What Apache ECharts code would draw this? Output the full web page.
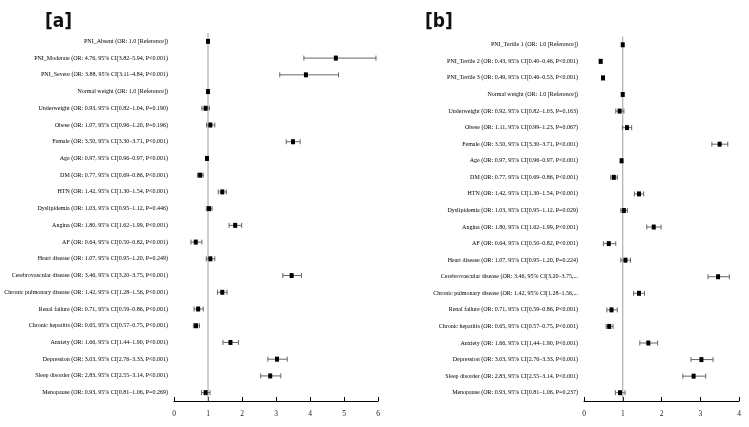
<!DOCTYPE html>
<html>
<head>
<meta charset="utf-8">
<script src="https://cdn.jsdelivr.net/npm/echarts@6/dist/echarts.min.js"></script>
<style>
  html, body { margin: 0; padding: 0; background: #fff; }
  #chart { width: 749px; height: 427px; }
</style>
</head>
<body>
<div id="chart"></div>
<script>
// panel [a]: PNI absent / moderate / severe
const namesA = ['PNI_Absent', 'PNI_Moderate', 'PNI_Severe', 'Normal weight', 'Underweight', 'Obese', 'Female', 'Age', 'DM', 'HTN',
  'Dyslipidemia', 'Angina', 'AF', 'Heart disease', 'Cerebrovascular disease', 'Chronic pulmonary disease', 'Renal failure',
  'Chronic hepatitis', 'Anxiety', 'Depression', 'Sleep disorder', 'Menopause'];
const orA = [1.0, 4.76, 3.88, 1.0, 0.93, 1.07, 3.50, 0.97, 0.77, 1.42, 1.03, 1.80, 0.64, 1.07, 3.46, 1.42, 0.71, 0.65, 1.66, 3.03, 2.83, 0.93];
const loA = [null, 3.82, 3.11, null, 0.82, 0.96, 3.30, 0.96, 0.69, 1.30, 0.95, 1.62, 0.50, 0.95, 3.20, 1.28, 0.59, 0.57, 1.44, 2.76, 2.55, 0.81];
const hiA = [null, 5.94, 4.84, null, 1.04, 1.20, 3.71, 0.97, 0.86, 1.54, 1.12, 1.99, 0.82, 1.20, 3.75, 1.56, 0.86, 0.75, 1.90, 3.33, 3.14, 1.06];
const pA = [null, 'P<0.001', 'P<0.001', null, 'P=0.190', 'P=0.196', 'P<0.001', 'P<0.001', 'P<0.001', 'P<0.001', 'P=0.446',
  'P<0.001', 'P<0.001', 'P=0.249', 'P<0.001', 'P<0.001', 'P<0.001', 'P<0.001', 'P<0.001', 'P<0.001', 'P<0.001', 'P=0.269'];

// panel [b]: PNI tertiles
const namesB = ['PNI_Tertile 1', 'PNI_Tertile 2', 'PNI_Tertile 3', 'Normal weight', 'Underweight', 'Obese', 'Female', 'Age', 'DM', 'HTN',
  'Dyslipidemia', 'Angina', 'AF', 'Heart disease', 'Cerebrovascular disease', 'Chronic pulmonary disease', 'Renal failure',
  'Chronic hepatitis', 'Anxiety', 'Depression', 'Sleep disorder', 'Menopause'];
const orB = [1.0, 0.43, 0.49, 1.0, 0.92, 1.11, 3.50, 0.97, 0.77, 1.42, 1.03, 1.80, 0.64, 1.07, 3.46, 1.42, 0.71, 0.65, 1.66, 3.03, 2.83, 0.93];
const loB = [null, 0.40, 0.46, null, 0.82, 0.99, 3.30, 0.96, 0.69, 1.30, 0.95, 1.62, 0.50, 0.95, 3.20, 1.28, 0.59, 0.57, 1.44, 2.76, 2.55, 0.81];
const hiB = [null, 0.46, 0.53, null, 1.03, 1.23, 3.71, 0.97, 0.86, 1.54, 1.12, 1.99, 0.82, 1.20, 3.75, 1.56, 0.86, 0.75, 1.90, 3.33, 3.14, 1.06];
const pB = [null, 'P<0.001', 'P<0.001', null, 'P=0.163', 'P=0.067', 'P<0.001', 'P<0.001', 'P<0.001', 'P<0.001', 'P=0.029',
  'P<0.001', 'P<0.001', 'P=0.224', 'P<0.001', 'P<0.001', 'P<0.001', 'P<0.001', 'P<0.001', 'P<0.001', 'P<0.001', 'P=0.237'];
// these two labels got cut off in panel b
const cutB = ['Cerebrovascular disease', 'Chronic pulmonary disease'];

const ticksA = [0, 1, 2, 3, 4, 5, 6];
const ticksB = [0, 1, 2, 3, 4];

function fmt(v) {
  return v.toFixed(2);
}

function makeLabels(names, or, lo, hi, p, cut) {
  return names.map(function (n, i) {
    if (lo[i] == null) return n + ' (OR: 1.0 [Reference])';
    const head = n + ' (OR: ' + fmt(or[i]) + ', 95% CI[' + fmt(lo[i]) + '\u2013' + fmt(hi[i]) + ',';
    if (cut && cut.indexOf(n) >= 0) return head + '...';
    return head + ' ' + p[i] + ')';
  });
}

const labelsA = makeLabels(namesA, orA, loA, hiA, pA);
const labelsB = makeLabels(namesB, orB, loB, hiB, pB, cutB);

const serif = "'Liberation Serif', 'DejaVu Serif', serif";

// [or, lo, hi, row]; reference rows get -1 for lo/hi so no bar is drawn
function rows(or, lo, hi) {
  return or.map(function (v, i) {
    return [v, lo[i] == null ? -1 : lo[i], hi[i] == null ? -1 : hi[i], i];
  });
}

function renderForest(params, api) {
  const or = api.value(0);
  const lo = api.value(1);
  const hi = api.value(2);
  const cat = api.value(3);
  const c = api.coord([or, cat]);
  const kids = [];
  // vertical reference line at OR = 1, drawn once per panel
  if (params.dataIndex === 0) {
    const cs = params.coordSys;
    const x1 = api.coord([1, cat])[0];
    kids.push({ type: 'line', shape: { x1: x1, y1: cs.y, x2: x1, y2: cs.y + cs.height }, style: { stroke: '#a0a0a0', lineWidth: 1 } });
  }
  if (lo >= 0) {
    const a = api.coord([lo, cat]);
    const b = api.coord([hi, cat]);
    const st = { stroke: '#666', lineWidth: 1 };
    kids.push({ type: 'line', shape: { x1: a[0], y1: a[1], x2: b[0], y2: b[1] }, style: st });
    kids.push({ type: 'line', shape: { x1: a[0], y1: a[1] - 2.5, x2: a[0], y2: a[1] + 2.5 }, style: st });
    kids.push({ type: 'line', shape: { x1: b[0], y1: b[1] - 2.5, x2: b[0], y2: b[1] + 2.5 }, style: st });
  }
  kids.push({ type: 'rect', shape: { x: c[0] - 2, y: c[1] - 2.5, width: 4, height: 5 }, style: { fill: '#000' } });
  return { type: 'group', children: kids };
}

function xAxisCfg(idx, max) {
  return {
    type: 'value', gridIndex: idx, min: 0, max: max, interval: 1,
    splitLine: { show: false },
    axisLine: { show: true, lineStyle: { color: '#000', width: 1 } },
    axisTick: { show: true, inside: true, length: 4, lineStyle: { color: '#000' } },
    axisLabel: { fontFamily: serif, fontSize: 7.5, color: '#222', margin: 9 }
  };
}

function yAxisCfg(idx, labels) {
  return {
    type: 'category', gridIndex: idx, data: labels, inverse: true,
    axisLine: { show: false }, axisTick: { show: false }, splitLine: { show: false },
    axisLabel: { fontFamily: serif, fontSize: 6, color: '#000', margin: 6, interval: 0 }
  };
}

const titleFont = "'DejaVu Sans Condensed', 'Liberation Sans Narrow', sans-serif";

const chart = echarts.init(document.getElementById('chart'));
chart.setOption({
  animation: false,
  backgroundColor: '#fff',
  title: [
    { text: '[a]', left: 40, top: 8, textStyle: { fontFamily: titleFont, fontWeight: 'bold', fontSize: 19, color: '#111' } },
    { text: '[b]', left: 420, top: 8, textStyle: { fontFamily: titleFont, fontWeight: 'bold', fontSize: 19, color: '#111' } }
  ],
  grid: [
    { left: 174, right: 371, top: 33, bottom: 26, outerBoundsMode: 'none' },
    { left: 584, right: 10, top: 36.5, bottom: 26, outerBoundsMode: 'none' }
  ],
  xAxis: [xAxisCfg(0, ticksA[ticksA.length - 1]), xAxisCfg(1, ticksB[ticksB.length - 1])],
  yAxis: [yAxisCfg(0, labelsA), yAxisCfg(1, labelsB)],
  series: [
    {
      type: 'custom', xAxisIndex: 0, yAxisIndex: 0,
      renderItem: renderForest, encode: { x: 0, y: 3 },
      data: rows(orA, loA, hiA), clip: false
    },
    {
      type: 'custom', xAxisIndex: 1, yAxisIndex: 1,
      renderItem: renderForest, encode: { x: 0, y: 3 },
      data: rows(orB, loB, hiB), clip: false
    }
  ]
});
</script>
</body>
</html>
